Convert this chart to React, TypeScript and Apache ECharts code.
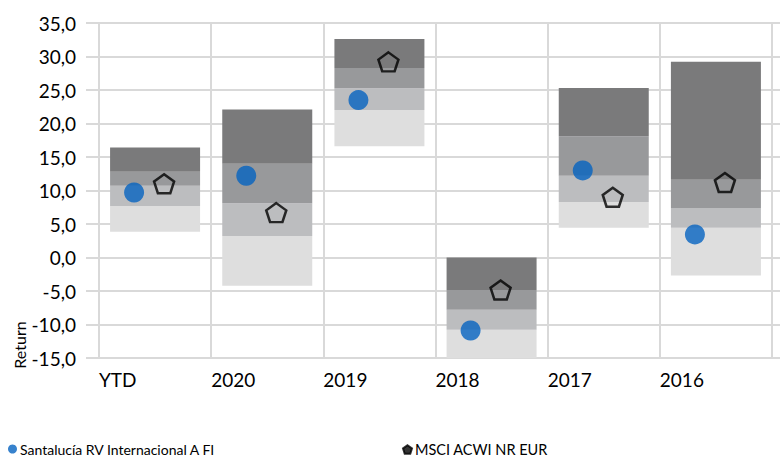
import React, { useEffect, useRef } from "react";
import * as echarts from "echarts";

const categories = ["YTD", "2020", "2019", "2018", "2017", "2016"];
// quartile boundaries (bottom -> top)
const q4Bottom = [3.85, -4.2, 16.6, -15.0, 4.45, -2.7];
const q4Top = [7.7, 3.2, 22.0, -10.8, 8.3, 4.45];
const q3Top = [10.7, 8.1, 25.25, -7.8, 12.2, 7.4];
const q2Top = [12.8, 14.0, 28.3, -4.85, 18.1, 11.6];
const q1Top = [16.4, 22.1, 32.6, 0.0, 25.3, 29.2];
const fundReturns = [9.7, 12.2, 23.5, -10.9, 13.0, 3.45];
const indexReturns = [11.0, 6.7, 29.2, -4.85, 9.0, 11.2];
const yTicks = { min: -15, max: 35, interval: 5 };

const FUND = "Santalucía RV Internacional A FI";
const INDEX = "MSCI ACWI NR EUR";
const PENT = "path://M0,-10 L9.51,-3.09 L5.88,8.09 L-5.88,8.09 L-9.51,-3.09 Z";
const FONT = "Lato";
const GRID = "#d9d9d9";

export default function App() {
  const ref = useRef<HTMLDivElement>(null);
  useEffect(() => {
    const chart = echarts.init(ref.current!, null, { renderer: "svg" });
    const diff = (a: number[], b: number[]) => a.map((v, i) => +(v - b[i]).toFixed(3));
    const segs = [
      { data: diff(q4Top, q4Bottom), color: "#dedede" },
      { data: diff(q3Top, q4Top), color: "#bcbdbf" },
      { data: diff(q2Top, q3Top), color: "#98999b" },
      { data: diff(q1Top, q2Top), color: "#7a7a7b" },
    ];
    const barSeries: any[] = [
      {
        type: "bar",
        stack: "q",
        stackStrategy: "all",
        xAxisIndex: 0,
        barWidth: 90,
        silent: true,
        itemStyle: { color: "transparent" },
        data: q4Bottom,
      },
      ...segs.map((s) => ({
        type: "bar",
        stack: "q",
        stackStrategy: "all",
        xAxisIndex: 0,
        barWidth: 90,
        itemStyle: { color: s.color },
        data: s.data,
      })),
    ];
    const option: any = {
      animation: false,
      grid: { left: 99, right: 8, top: 23, bottom: 99 },
      xAxis: [
        { type: "category", data: categories, show: false },
        {
          type: "value",
          min: 0,
          max: 6,
          interval: 1,
          position: "bottom",
          axisLine: { show: false },
          axisTick: { show: true, length: 52, lineStyle: { color: GRID, width: 2 } },
          splitLine: { show: true, lineStyle: { color: GRID, width: 2 } },
          axisLabel: {
            align: "left",
            margin: 12,
            fontFamily: FONT,
            fontSize: 19,
            color: "#000",
            showMaxLabel: false,
            formatter: (v: number) => categories[v] ?? "",
          },
        },
      ],
      yAxis: [
        {
          type: "value",
          ...yTicks,
          axisLine: { show: false },
          axisTick: { show: true, length: 13, lineStyle: { color: GRID, width: 2 } },
          splitLine: { show: true, lineStyle: { color: GRID, width: 2 } },
          axisLabel: {
            margin: 23,
            fontFamily: FONT,
            fontSize: 19,
            color: "#000",
            formatter: (v: number) => v.toFixed(1).replace(".", ","),
          },
        },
        {
          type: "value",
          ...yTicks,
          position: "right",
          axisLine: { show: false },
          axisTick: { show: true, length: 8, lineStyle: { color: GRID, width: 2 } },
          splitLine: { show: false },
          axisLabel: { show: false },
        },
      ],
      legend: [
        {
          left: 3,
          top: 437,
          itemWidth: 9,
          itemHeight: 9,
          itemGap: 4,
          textStyle: { fontFamily: FONT, fontSize: 14, color: "#000", padding: [0, 0, 0, -2] },
          data: [{ name: FUND, icon: "circle" }],
        },
        {
          left: 397,
          top: 437,
          itemWidth: 9,
          itemHeight: 9,
          textStyle: { fontFamily: FONT, fontSize: 14.5, color: "#000", padding: [0, 0, 0, -2] },
          data: [{ name: INDEX, icon: PENT, itemStyle: { color: "#000", borderColor: "#000" } }],
        },
      ],
      graphic: [
        {
          type: "text",
          x: 19,
          y: 345,
          rotation: Math.PI / 2,
          style: {
            text: "Return",
            fontFamily: FONT,
            fontSize: 16,
            fill: "#000",
            align: "center",
            verticalAlign: "middle",
          },
        },
      ],
      series: [
        ...barSeries,
        {
          name: FUND,
          type: "scatter",
          xAxisIndex: 1,
          symbol: "circle",
          symbolSize: 20,
          z: 5,
          itemStyle: { color: "#0563c1" },
          data: fundReturns.map((v, i) => [i + 0.5 - 21 / 112.17, v]),
        },
        {
          name: INDEX,
          type: "scatter",
          xAxisIndex: 1,
          symbol: PENT,
          symbolSize: [20, 19],
          z: 6,
          itemStyle: { color: "transparent", borderColor: "#000", borderWidth: 2.5 },
          data: indexReturns.map((v, i) => [i + 0.5 + 9 / 112.17, v]),
        },
      ],
    };
    chart.setOption(option);
    return () => chart.dispose();
  }, []);
  return <div ref={ref} style={{ width: 780, height: 457, position: "absolute", left: 0, top: 0 }} />;
}
